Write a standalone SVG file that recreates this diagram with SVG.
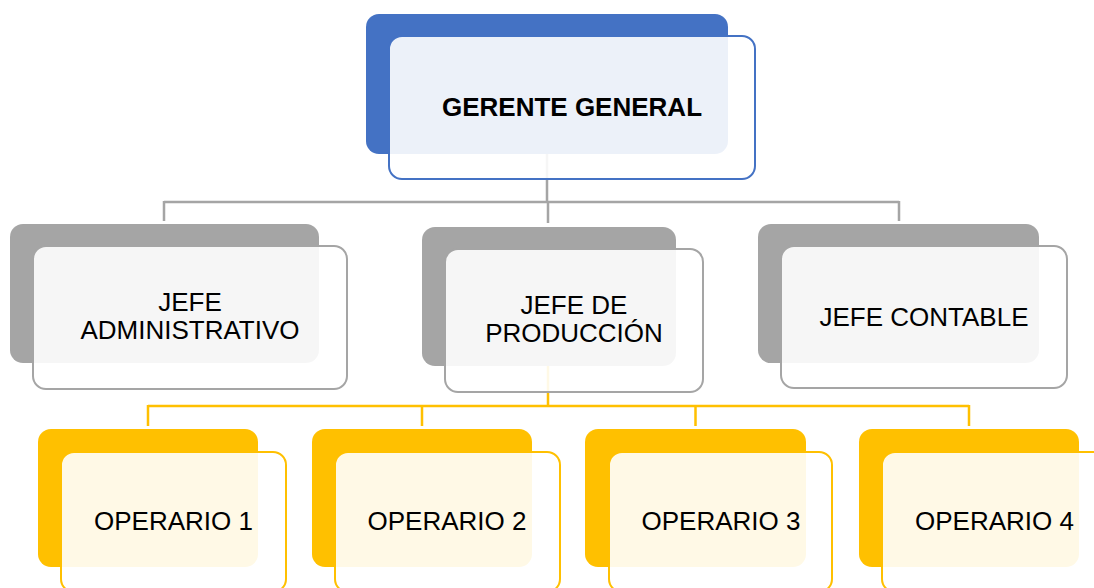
<svg xmlns="http://www.w3.org/2000/svg" width="1094" height="588" viewBox="0 0 1094 588">
<style>
.t{font-family:"Liberation Sans",Arial,sans-serif;font-size:26px;fill:#000;text-anchor:middle}
.b{font-weight:bold}
.front{fill:#fff;fill-opacity:0.9;stroke-width:2}
.blue .back{fill:#4472C4}.blue .front{stroke:#4472C4}
.gray .back{fill:#A5A5A5}.gray .front{stroke:#A5A5A5}
.yel .back{fill:#FFC000}.yel .front{stroke:#FFC000}
.cg{stroke:#A5A5A5;stroke-width:2.5;fill:none}
.cy{stroke:#FFC000;stroke-width:2.5;fill:none}
</style>
<rect width="1094" height="588" fill="#fff"/>
<g id="connectors">
<path class="cg" d="M547 154V202M164 202H899M164 201V221M548 201V223M899 201V221"/>
<path class="cy" d="M548 366V406M148 406H969M148 405V426M422 405V426M695.5 405V426M969 405V426"/>
</g>
<g id="gerente" class="blue">
<rect class="back" x="366" y="14" width="362" height="140" rx="13"/>
<rect class="front" x="389" y="36" width="366" height="143" rx="13"/>
<text class="t b" x="572" y="116">GERENTE GENERAL</text>
</g>
<g id="jefe-admin" class="gray">
<rect class="back" x="10" y="224" width="309" height="139" rx="13"/>
<rect class="front" x="33" y="246" width="314" height="143" rx="13"/>
<text class="t" x="190" y="311">JEFE</text>
<text class="t" x="190" y="339">ADMINISTRATIVO</text>
</g>
<g id="jefe-prod" class="gray">
<rect class="back" x="422" y="227" width="254" height="139" rx="13"/>
<rect class="front" x="445" y="249" width="258" height="143" rx="13"/>
<text class="t" x="574" y="314">JEFE DE</text>
<text class="t" x="574" y="342">PRODUCCIÓN</text>
</g>
<g id="jefe-contable" class="gray">
<rect class="back" x="758" y="224" width="281" height="139" rx="13"/>
<rect class="front" x="781" y="246" width="286" height="142" rx="13"/>
<text class="t" x="924" y="326">JEFE CONTABLE</text>
</g>
<g id="operario1" class="yel">
<rect class="back" x="38" y="429" width="220" height="138" rx="13"/>
<rect class="front" x="61" y="452" width="225" height="140" rx="13"/>
<text class="t" x="173.5" y="530">OPERARIO 1</text>
</g>
<g id="operario2" class="yel">
<rect class="back" x="312" y="429" width="220" height="138" rx="13"/>
<rect class="front" x="335" y="452" width="225" height="140" rx="13"/>
<text class="t" x="447" y="530">OPERARIO 2</text>
</g>
<g id="operario3" class="yel">
<rect class="back" x="585" y="429" width="221" height="138" rx="13"/>
<rect class="front" x="609" y="452" width="223" height="140" rx="13"/>
<text class="t" x="721" y="530">OPERARIO 3</text>
</g>
<g id="operario4" class="yel">
<rect class="back" x="859" y="429" width="220" height="138" rx="13"/>
<rect class="front" x="882" y="452" width="225" height="140" rx="13"/>
<text class="t" x="994.5" y="530">OPERARIO 4</text>
</g>
</svg>
